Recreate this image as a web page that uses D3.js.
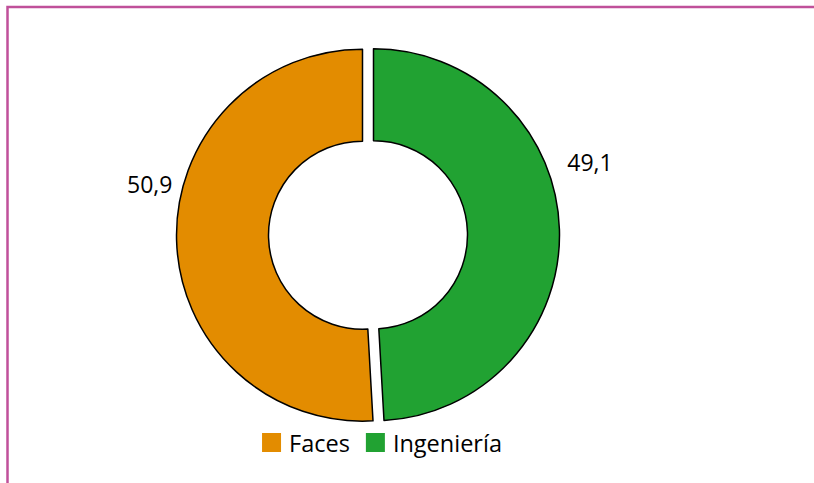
<!doctype html>
<html>
<head>
<meta charset="UTF-8">
<title>Faces / Ingeniería</title>
<script src="https://cdn.jsdelivr.net/npm/d3@7"></script>
<style>
  body { margin: 0; background: #fff; }
  svg { display: block; font-family: "Open Sans", sans-serif; }
</style>
</head>
<body>
<div id="chart"></div>
<script>
// data
const categories = ["Faces", "Ingeniería"];
const values = [50.9, 49.1];
const labels = ["50,9", "49,1"];
const colors = ["#e38c00", "#21a232"];

const width = 814, height = 483;
const cx = 368, cy = 235;
const outerR = 186, innerR = 94, explode = 5.5;

const svg = d3.select("#chart").append("svg")
  .attr("width", width).attr("height", height);

// frame (only top and left edges visible)
svg.append("path")
  .attr("d", `M7.5,${height} V7 H${width}`)
  .attr("fill", "none")
  .attr("stroke", "#c0509a")
  .attr("stroke-width", 2.5);

const total = d3.sum(values);
const a0 = 2 * Math.PI * (1 - values[0] / total);

const pie = d3.pie().sort(null).value(d => d)
  .startAngle(a0).endAngle(a0 + 2 * Math.PI);
const arcs = pie(values);

const arc = d3.arc().innerRadius(innerR).outerRadius(outerR);

const g = svg.append("g").attr("transform", `translate(${cx},${cy})`);

arcs.forEach((d, i) => {
  const mid = (d.startAngle + d.endAngle) / 2;
  const dx = Math.sin(mid) * explode, dy = -Math.cos(mid) * explode;
  g.append("path")
    .attr("d", arc(d))
    .attr("transform", `translate(${dx},${dy})`)
    .attr("fill", colors[i])
    .attr("stroke", "#000")
    .attr("stroke-width", 1.5)
    .attr("stroke-linejoin", "round");

  // data label: pushed outside, rotated a bit towards 12 o'clock
  let m = mid % (2 * Math.PI);
  const tilt = 17 * Math.PI / 180;
  const la = m > Math.PI ? m + tilt * 0.85 : m - tilt;
  const lr = 229;
  g.append("text")
    .attr("x", Math.sin(la) * lr + 5)
    .attr("y", -Math.cos(la) * lr)
    .attr("text-anchor", "middle")
    .attr("dominant-baseline", "central")
    .attr("font-size", 23)
    .attr("fill", "#000")
    .text(labels[i]);
});

// legend
const legend = svg.append("g");
const sq = 19, gap = 8, itemGap = 16;
let x = 0;
categories.forEach((c, i) => {
  const it = legend.append("g").attr("transform", `translate(${x},0)`);
  it.append("rect").attr("width", sq).attr("height", sq).attr("fill", colors[i]);
  const t = it.append("text")
    .attr("x", sq + gap).attr("y", sq)
    .attr("font-size", 23.5)
    .attr("fill", "#000")
    .text(c);
  x += sq + gap + t.node().getComputedTextLength() + itemGap;
});
x -= itemGap;
legend.attr("transform", `translate(${382 - x / 2},433)`);
</script>
</body>
</html>
